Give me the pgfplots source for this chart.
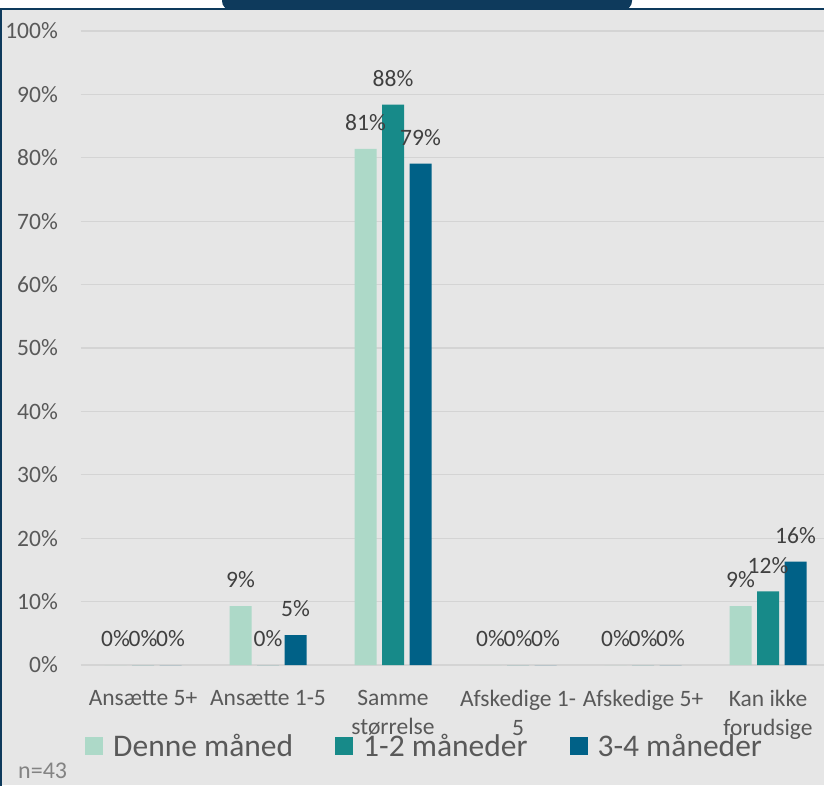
\documentclass[border=0pt]{standalone}
\usepackage{fontspec}
\setmainfont{Carlito}
\usepackage{pgfplots}
\pgfplotsset{compat=1.18}
\definecolor{c1}{HTML}{ADD9C8}
\definecolor{c2}{HTML}{178A89}
\definecolor{c3}{HTML}{006187}
\definecolor{frame}{HTML}{0E3A5C}
\definecolor{bg}{HTML}{E6E6E6}
\definecolor{gridc}{HTML}{D4D4D4}
\definecolor{lbl}{HTML}{404040}
\definecolor{tck}{HTML}{595959}
\pgfplotsset{sq/.style={legend image code/.code={\fill[##1] (0pt,-9pt) rectangle (18pt,9pt);}}}

\begin{document}
\begin{tikzpicture}
\useasboundingbox (0pt,0pt) rectangle (824pt,785pt);
\begin{scope}
  \clip (0pt,0pt) rectangle (824pt,785pt);
  \fill[white] (0pt,0pt) rectangle (824pt,785pt);
  \fill[bg] (0pt,0pt) rectangle (824pt,776pt);
  \draw[frame, line width=2pt] (1pt,-5pt) -- (1pt,776pt) -- (830pt,776pt);
  \fill[frame, rounded corners=9pt] (222pt,775pt) rectangle (632pt,800pt);
\end{scope}
\begin{axis}[
    at={(80.5pt,120pt)}, anchor=south west,
    width=750pt, height=634pt, scale only axis,
    xmin=-0.5, xmax=5.5, ymin=0, ymax=100,
    ybar=5.5pt, bar width=22pt,
    axis line style={draw=none}, tick style={draw=none},
    ymajorgrids, grid style={gridc, line width=1.2pt},
    ytick={0,10,...,100},
    yticklabels={0\%,10\%,20\%,30\%,40\%,50\%,60\%,70\%,80\%,90\%,100\%},
    yticklabel style={inner sep=0pt, xshift=-22.5pt},
    xtick={0,...,5},
    xticklabels={Ansætte 5+, Ansætte 1-5, {Samme\\størrelse}, {Afskedige 1-\\5}, Afskedige 5+, {Kan ikke\\forudsige}},
    xticklabel style={align=center, inner sep=0pt, anchor=north, yshift=-21pt},
    ticklabel style={font=\fontsize{23.5}{29}\selectfont, text=tck},
    /pgf/number format/assume math mode=true,
    nodes near coords={\pgfmathprintnumber[fixed,precision=0]{\pgfplotspointmeta}\%},
    every node near coord/.append style={font=\fontsize{23.5}{28}\selectfont, text=lbl, inner sep=0pt, anchor=south, yshift=18pt},
    legend columns=3,
    legend style={at={(0.006,-0.128)}, anchor=west, draw=none, fill=none, inner sep=0pt,
        font=\fontsize{31.5}{36}\selectfont, text=tck, nodes={inner sep=0pt},
        /tikz/every odd column/.style={column sep=10pt},
        /tikz/every even column/.style={column sep=42pt}},
    legend cell align=left,
    clip=false,
]
\addplot[fill=c1, draw=none, sq] coordinates {(0,0) (1,9.3) (2,81.4) (3,0) (4,0) (5,9.3)};
\addplot[fill=c2, draw=none, sq] coordinates {(0,0) (1,0) (2,88.4) (3,0) (4,0) (5,11.6)};
\addplot[fill=c3, draw=none, sq] coordinates {(0,0) (1,4.7) (2,79.1) (3,0) (4,0) (5,16.3)};
\legend{Denne måned, 1-2 måneder, 3-4 måneder}
\end{axis}
\node[anchor=base west, inner sep=0pt, font=\fontsize{24}{28}\selectfont, text=tck!75!white] at (18pt,7pt) {n=43};
\end{tikzpicture}
\end{document}
